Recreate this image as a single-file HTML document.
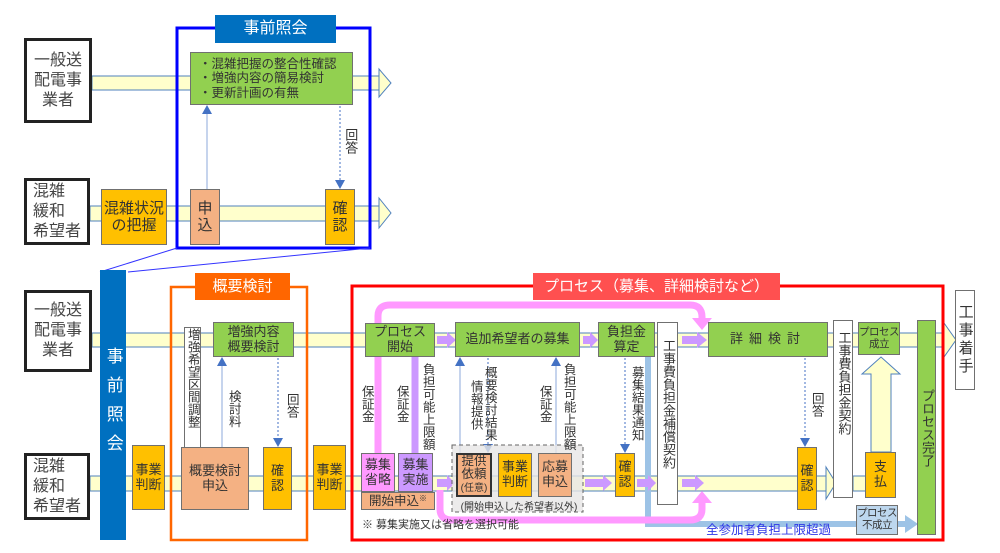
<!DOCTYPE html>
<html><head><meta charset="utf-8"><style>
body{margin:0;width:1000px;height:553px;position:relative;background:#fff;overflow:hidden;font-family:"Liberation Sans","Noto Sans CJK JP",sans-serif;color:#333}
.b{position:absolute;display:flex;align-items:center;justify-content:center;text-align:center;box-sizing:border-box;border:1.5px solid #707070;font-size:13px;line-height:1.15}
.v{writing-mode:vertical-rl;letter-spacing:0px}
.g{background:#92D050}.o{background:#FFC000}.s{background:#F4B183}.w{background:#fff}
.t{position:absolute;font-size:12.5px;line-height:1.1;writing-mode:vertical-rl;color:#333}
.blk{border:3px solid #222;font-size:16px;line-height:1.25;color:#444}
svg{position:absolute;left:0;top:0}
</style></head><body>
<svg width="1000" height="553">
<!-- top section bands -->
<rect x="92" y="76" width="288" height="14" fill="#FFFFCC" stroke="#4F81BD" stroke-width="1"/>
<polygon points="379,69 391,83 379,97" fill="#FFFFCC" stroke="#4F81BD"/>
<rect x="90" y="206" width="290" height="15" fill="#FFFFCC" stroke="#4F81BD" stroke-width="1"/>
<polygon points="379,198 391,213 379,228" fill="#FFFFCC" stroke="#4F81BD"/>
<rect x="177" y="28" width="193" height="220" fill="none" stroke="#0000FF" stroke-width="3"/>
<line x1="100" y1="272" x2="177" y2="248" stroke="#3333ff" stroke-width="1"/>
<line x1="128" y1="272" x2="370" y2="248" stroke="#3333ff" stroke-width="1"/>
<line x1="207" y1="189" x2="207" y2="112" stroke="#8EA9DB" stroke-width="1"/>
<polygon points="202,114 212,114 207,105" fill="#4472C4"/>
<line x1="340" y1="106" x2="340" y2="180" stroke="#4472C4" stroke-width="1" stroke-dasharray="2,2"/>
<polygon points="335,180 345,180 340,189" fill="#4472C4"/>
<!-- bottom bands -->
<rect x="92" y="333" width="853" height="14" fill="#FFFFCC" stroke="#4F81BD" stroke-width="1"/>
<polygon points="944,323 956,340 944,357" fill="#FFFFCC" stroke="#4F81BD"/>
<rect x="90" y="476" width="737" height="15" fill="#FFFFCC" stroke="#4F81BD" stroke-width="1"/>
<polygon points="826,467 836,483 826,499" fill="#FFFFCC" stroke="#4F81BD"/>
<rect x="853" y="476" width="14" height="15" fill="#FFFFCC" stroke="#4F81BD" stroke-width="1"/>
<rect x="171" y="287" width="136" height="253" fill="none" stroke="#FF6600" stroke-width="2.5"/>
<rect x="352" y="286" width="591" height="254" fill="none" stroke="#FF0000" stroke-width="3"/>
<!-- blue lightline -->
<path d="M648 357 V524 H905" fill="none" stroke="#9DC3E6" stroke-width="6"/>
<polygon points="905,515 918,524 905,533" fill="#9DC3E6"/>
<!-- pink loops -->
<path d="M378 453 V316 Q378 305 390 305 H690 Q702 305 702 317 V320" fill="none" stroke="#FF99FF" stroke-width="7"/>
<polygon points="692,318 712,318 702,330" fill="#FF99FF"/>
<path d="M440 490 V509 Q440 520 452 520 H690 Q702 520 702 509 V503" fill="none" stroke="#FF99FF" stroke-width="7"/>
<polygon points="692,503 712,503 702,491" fill="#FF99FF"/>
<line x1="415" y1="357" x2="415" y2="453" stroke="#CC99FF" stroke-width="7"/>
<!-- purple arrows -->
<g fill="#CC99FF">
<polygon points="437,336 447,336 447,332 456,340 447,348 447,344 437,344"/>
<polygon points="583,336 590,336 590,332 598,340 590,348 590,344 583,344"/>
<polygon points="682,336 697,336 697,332 707,340 697,348 697,344 682,344"/>
<polygon points="437,479 447,479 447,475 455,483 447,491 447,487 437,487"/>
<polygon points="585,479 603,479 603,475 612,483 603,491 603,487 585,487"/>
<polygon points="637,479 648,479 648,475 656,483 648,491 648,487 637,487"/>
<polygon points="682,479 695,479 695,475 704,483 695,491 695,487 682,487"/>
</g>
<!-- connectors -->
<line x1="222" y1="447" x2="222" y2="364" stroke="#8EA9DB"/><polygon points="217,366 227,366 222,357" fill="#4472C4"/>
<line x1="278" y1="358" x2="278" y2="438" stroke="#4472C4" stroke-dasharray="2,2"/><polygon points="273,438 283,438 278,447" fill="#4472C4"/>
<line x1="460" y1="453" x2="460" y2="364" stroke="#8EA9DB"/><polygon points="455,366 465,366 460,357" fill="#4472C4"/>
<line x1="488" y1="358" x2="488" y2="446" stroke="#4472C4" stroke-dasharray="2,2"/><polygon points="483,444 493,444 488,453" fill="#4472C4"/>
<line x1="556" y1="453" x2="556" y2="364" stroke="#8EA9DB"/><polygon points="551,366 561,366 556,357" fill="#4472C4"/>
<line x1="625" y1="358" x2="625" y2="446" stroke="#4472C4" stroke-dasharray="2,2"/><polygon points="620,444 630,444 625,453" fill="#4472C4"/>
<line x1="805" y1="358" x2="805" y2="438" stroke="#4472C4" stroke-dasharray="2,2"/><polygon points="800,438 810,438 805,447" fill="#4472C4"/>
<rect x="452" y="445" width="131" height="67" fill="#E7E6E6" fill-opacity="0.8" stroke="#666" stroke-dasharray="4,3"/>
<!-- hollow up arrow -->
<polygon points="871,452 871,374 862,374 881,357 900,374 891,374 891,452" fill="#FFFFCC" stroke="#4F81BD"/>
</svg>

<!-- top section -->
<div class="b blk w" style="left:24px;top:38px;width:68px;height:85px">一般送<br>配電事<br>業者</div>
<div class="b blk w" style="left:24px;top:178px;width:66px;height:67px;text-align:left">混雑<br>緩和<br>希望者</div>
<div class="b" style="left:215px;top:15px;width:121px;height:28px;background:#0070C0;color:#fff;border:none;font-size:16px">事前照会</div>
<div class="b g" style="left:190px;top:52px;width:163px;height:53px;justify-content:flex-start;text-align:left;padding-left:8px;font-size:12.5px">・混雑把握の整合性確認<br>・増強内容の簡易検討<br>・更新計画の有無</div>
<div class="b o" style="left:101px;top:189px;width:66px;height:56px;font-size:15px">混雑状況<br>の把握</div>
<div class="b s" style="left:190px;top:189px;width:30px;height:56px;font-size:15px">申<br>込</div>
<div class="b o" style="left:325px;top:189px;width:30px;height:56px;font-size:15px">確<br>認</div>
<div class="t" style="left:343px;top:128px;font-size:13px">回答</div>

<!-- bottom section -->
<div class="b blk w" style="left:24px;top:290px;width:68px;height:82px">一般送<br>配電事<br>業者</div>
<div class="b blk w" style="left:24px;top:453px;width:66px;height:67px;text-align:left">混雑<br>緩和<br>希望者</div>
<div class="b v" style="left:100px;top:270px;width:26px;height:270px;background:#0070C0;color:#fff;border:none;font-size:17px;letter-spacing:12px">事前照会</div>
<div class="b" style="left:195px;top:273px;width:95px;height:27px;background:#FF6600;color:#fff;border:none;font-size:15px">概要検討</div>
<div class="b" style="left:533px;top:273px;width:247px;height:27px;background:#FF5050;color:#fff;border:none;font-size:15px">プロセス（募集、詳細検討など）</div>

<div class="b o" style="left:132px;top:445px;width:33px;height:65px">事業<br>判断</div>
<div class="b w v" style="left:184px;top:327px;width:17px;height:138px;justify-content:flex-start;font-size:12.5px">増強希望区間調整</div>
<div class="b g" style="left:213px;top:322px;width:81px;height:35px">増強内容<br>概要検討</div>
<div class="b s" style="left:181px;top:447px;width:68px;height:63px">概要検討<br>申込</div>
<div class="b o" style="left:263px;top:447px;width:29px;height:63px">確<br>認</div>
<div class="t" style="left:226px;top:390px">検討料</div>
<div class="t" style="left:284px;top:393px">回答</div>
<div class="b o" style="left:313px;top:445px;width:33px;height:65px">事業<br>判断</div>

<div class="b g" style="left:365px;top:323px;width:70px;height:34px">プロセス<br>開始</div>
<div class="b" style="left:361px;top:453px;width:34px;height:39px;background:#FF99FF">募集<br>省略</div>
<div class="b" style="left:398px;top:453px;width:35px;height:39px;background:#CC99FF">募集<br>実施</div>
<div class="b s" style="left:361px;top:492px;width:74px;height:18px;font-size:12.5px"><div>開始申込<span style="font-size:8px;vertical-align:top">※</span></div></div>
<div class="t" style="left:359px;top:385px">保証金</div>
<div class="t" style="left:394px;top:385px">保証金</div>
<div class="t" style="left:420px;top:363px">負担可能上限額</div>
<div style="position:absolute;left:362px;top:516px;font-size:11px">※ 募集実施又は省略を選択可能</div>

<div class="b g" style="left:455px;top:322px;width:125px;height:35px">追加希望者の募集</div>
<div class="b s" style="left:456px;top:453px;width:36px;height:44px;border:2px solid #333;font-size:12.5px;line-height:1.05"><div>提供<br>依頼<br><span style="font-size:10px">(任意)</span></div></div>
<div class="b o" style="left:498px;top:453px;width:34px;height:44px">事業<br>判断</div>
<div class="b s" style="left:538px;top:453px;width:34px;height:44px">応募<br>申込</div>
<div style="position:absolute;left:454px;top:498px;font-size:10px;width:130px;text-align:center">(開始申込した希望者以外)</div>
<div class="t" style="left:468px;top:380px">情報提供</div>
<div class="t" style="left:482px;top:366px">概要検討結果</div>
<div class="t" style="left:537px;top:385px">保証金</div>
<div class="t" style="left:561px;top:363px">負担可能上限額</div>

<div class="b g" style="left:598px;top:322px;width:57px;height:35px">負担金<br>算定</div>
<div class="b w v" style="left:657px;top:322px;width:21px;height:183px;justify-content:flex-start;padding-top:16px">工事費負担金補償契約</div>
<div class="t" style="left:629px;top:366px">募集結果通知</div>
<div class="b o" style="left:615px;top:453px;width:20px;height:44px">確<br>認</div>

<div class="b g" style="left:708px;top:322px;width:120px;height:35px;letter-spacing:6px">詳細検討</div>
<div class="t" style="left:809px;top:392px">回答</div>
<div class="b o" style="left:797px;top:447px;width:20px;height:63px">確<br>認</div>
<div class="b w v" style="left:833px;top:320px;width:20px;height:178px;justify-content:flex-start;padding-top:10px">工事費負担金契約</div>
<div class="b g" style="left:858px;top:322px;width:42px;height:33px;font-size:10.5px;line-height:1.1;letter-spacing:-0.5px"><div>プロセス<br>成立</div></div>
<div class="b o" style="left:865px;top:452px;width:31px;height:46px">支<br>払</div>
<div class="b" style="left:856px;top:505px;width:42px;height:30px;background:#BDD7EE;font-size:10.5px;line-height:1.1;letter-spacing:-0.5px"><div>プロセス<br>不成立</div></div>
<div style="position:absolute;left:706px;top:519px;font-size:12.5px;color:#2E36E6">全参加者負担上限超過</div>
<div class="b g v" style="left:917px;top:320px;width:19px;height:215px;font-size:13px">プロセス完了</div>
<div class="b w v" style="left:955px;top:290px;width:20px;height:100px;font-size:15px;letter-spacing:3px">工事着手</div>
</body></html>
